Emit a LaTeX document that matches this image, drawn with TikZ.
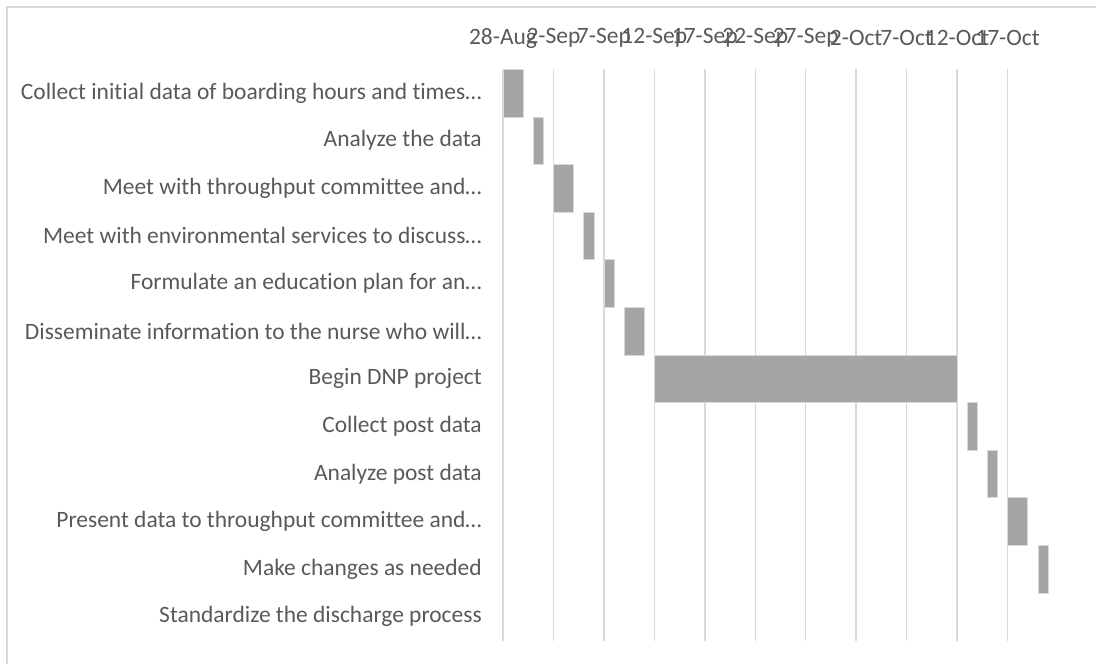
\documentclass[tikz,border=0pt]{standalone}
\usepackage{fontspec}
\setmainfont[Ligatures=CommonOff]{Carlito}
\usepackage{tikz}
\usetikzlibrary{positioning,calc}
\definecolor{labelgray}{HTML}{595959}
\definecolor{gridgray}{HTML}{D9D9D9}
\definecolor{bargray}{HTML}{A5A5A5}

\begin{document}
\begin{tikzpicture}[x=0.75pt,y=-0.75pt,
tasklabel/.style={anchor=east,inner sep=0pt,text=labelgray,font=\fontsize{17.6}{19}\selectfont},
datelabel/.style={anchor=center,inner sep=0pt,text=labelgray,font=\fontsize{17.6}{19}\selectfont},
gridline/.style={draw=gridgray,line width=1.1pt},
bar/.style={fill=bargray,draw=gridgray,line width=0.4pt}]
\useasboundingbox (0,0) rectangle (1096,664);

% frame
\draw[gridgray,line width=1.1pt] (7,664) -- (7,7) -- (1096,7);

% grid and dates
\foreach \d [count=\k from 0] in {28-Aug,2-Sep,7-Sep,12-Sep,17-Sep,22-Sep,27-Sep,2-Oct,7-Oct,12-Oct,17-Oct}{
  \coordinate (g\k) at ({503+50.45*\k},69);
  \draw[gridline] (g\k) -- ++(0,572);
  \node[datelabel] (date\k) at ($(g\k)+(0,-31)$) {\d};
}

% tasks
\foreach \t/\s/\l [count=\i from 0] in {
  {Collect initial data of boarding hours and times…}/0/2,
  {Analyze the data\ }/3/1,
  {Meet with throughput committee and…}/5/2,
  {Meet with environmental services to discuss…}/8/1,
  {Formulate an education plan for an…}/10/1,
  {Disseminate information to the nurse who will…}/12/2,
  {Begin DNP project\ }/15/30,
  {Collect post data\ }/46/1,
  {Analyze post data\ }/48/1,
  {Present data to throughput committee and…}/50/2,
  {Make changes as needed\ }/53/1,
  {Standardize the discharge process}/0/0}{
  \node[tasklabel] (task\i) at (482,{93+47.6*\i}) {\t};
  \ifnum\l>0
    \draw[bar] ({503+10.09*\s},{69.3+47.6*\i}) rectangle ({503+10.09*(\s+\l)},{69.3+47.6*(\i+1)});
  \fi
}
\end{tikzpicture}
\end{document}
